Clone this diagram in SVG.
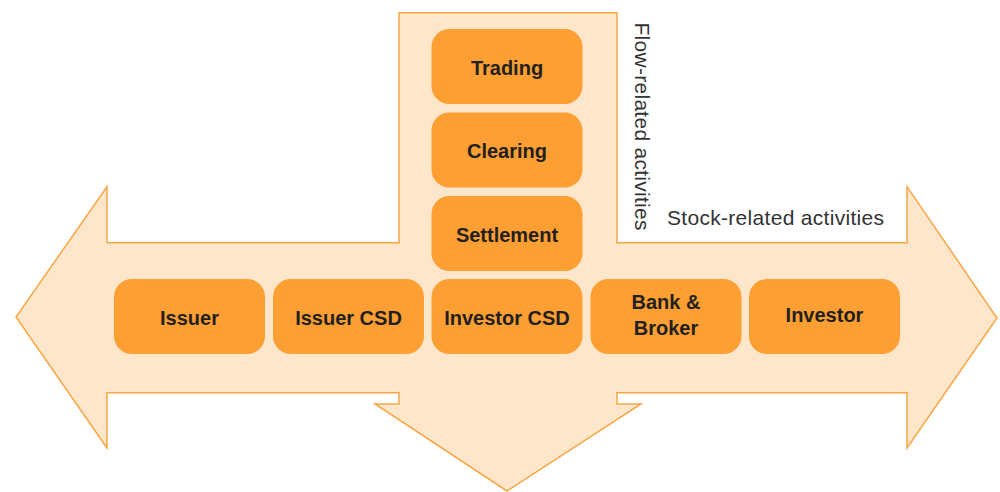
<svg xmlns="http://www.w3.org/2000/svg" width="1000" height="492" viewBox="0 0 1000 492">
  <defs>
    <style>
      .band { fill: #FDE6CA; stroke: #F8A748; stroke-width: 1.5; stroke-linejoin: miter; }
      .box { fill: #FE9F33; }
      .lbl { font-family: "Liberation Sans", Arial, sans-serif; font-weight: bold; font-size: 20px; fill: #231F20; text-anchor: middle; }
      .note { font-family: "Liberation Sans", Arial, sans-serif; font-size: 21px; fill: #333333; }
    </style>
  </defs>

  <!-- combined three-way arrow: left/right stock flow, downward flow column -->
  <g id="arrows">
    <polygon class="band" points="399,12.7 617,12.7 617,242.7 907,242.7 907,186.7 997,318 907,448 907,392.7 617,392.7 617,404 641,404 507,491 375,404 399,404 399,392.7 107,392.7 107,448 16,317 107,186.7 107,242.7 399,242.7"/>
  </g>

  <g id="connectors"></g>

  <!-- flow-related column -->
  <g id="trading">
    <rect class="box" x="431.5" y="29" width="151" height="75" rx="18"/>
    <text class="lbl" x="507" y="74.5">Trading</text>
  </g>
  <g id="clearing">
    <rect class="box" x="431.5" y="112.5" width="151" height="75" rx="18"/>
    <text class="lbl" x="507" y="158">Clearing</text>
  </g>
  <g id="settlement">
    <rect class="box" x="431.5" y="196" width="151" height="75" rx="18"/>
    <text class="lbl" x="507" y="241.5">Settlement</text>
  </g>

  <!-- stock-related row -->
  <g id="issuer">
    <rect class="box" x="114" y="279" width="151" height="75" rx="18"/>
    <text class="lbl" x="189.5" y="325">Issuer</text>
  </g>
  <g id="issuer-csd">
    <rect class="box" x="273" y="279" width="151" height="75" rx="18"/>
    <text class="lbl" x="348.5" y="325">Issuer CSD</text>
  </g>
  <g id="investor-csd">
    <rect class="box" x="431.5" y="279" width="151" height="75" rx="18"/>
    <text class="lbl" x="507" y="325">Investor CSD</text>
  </g>
  <g id="bank-broker">
    <rect class="box" x="590.5" y="279" width="151" height="75" rx="18"/>
    <text class="lbl" x="666" y="309">Bank &amp;</text>
    <text class="lbl" x="666" y="334.5">Broker</text>
  </g>
  <g id="investor">
    <rect class="box" x="749" y="279" width="151" height="75" rx="18"/>
    <text class="lbl" x="824.5" y="322">Investor</text>
  </g>

  <!-- activity captions -->
  <g id="captions">
    <text class="note" transform="translate(635,22.5) rotate(90)" textLength="208" lengthAdjust="spacing">Flow-related activities</text>
    <text class="note" x="667" y="225" textLength="217" lengthAdjust="spacing">Stock-related activities</text>
  </g>
</svg>
